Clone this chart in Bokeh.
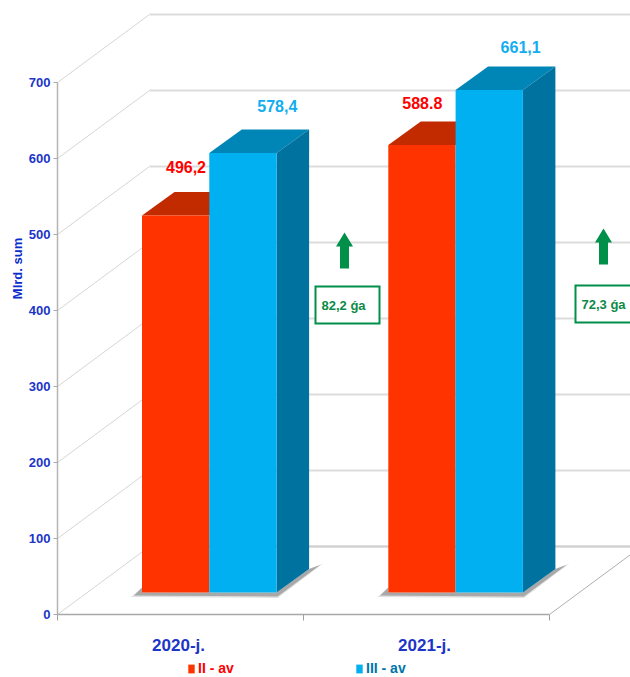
from bokeh.plotting import figure
from bokeh.models import Range1d, LinearAxis, FixedTicker, Legend, LegendItem
from bokeh.core.properties import value
from bokeh.embed import file_html
from bokeh.resources import INLINE

# ---- chart data ----
years = ["2020-j.", "2021-j."]
q2_values = [496.2, 588.8]
q3_values = [578.4, 661.1]
q2_labels = ["496,2", "588.8"]
q3_labels = ["578,4", "661,1"]
gain_labels = ["82,2 ǵa", "72,3 ǵa"]
y_ticks = [0, 100, 200, 300, 400, 500, 600, 700]
series_names = ["II - av", "III - av"]
y_title = "Mlrd. sum"

# ---- layout / style ----
PX_X = 246.0     # pixels per category
PX_Y = 0.76      # pixels per value unit
W, H = 630, 677
X0_PX, Y0_PX = 57, 614   # where the value/category origin lies
ux = 1 / PX_X
uy = 1 / PX_Y
X_END = (W - X0_PX) * ux
WALL_DX, WALL_DY = 92 * ux, 68 * uy      # depth of the chart box
BAR_DX, BAR_DY = 32.5 * ux, 23.5 * uy    # depth of each bar
BASE = 22 * uy                           # raised baseline of bar fronts
BAR_L = 84.5 * ux
BAR_W = 67.3 * ux
BAR_STEP = 246.3 * ux
LABEL_POS = [0.492, 1.492]
FONT = "Liberation Sans"
BLUE = "#1c35c8"
RED, RED_TOP = "#ff3300", "#c22a00"
SKY, SKY_TOP, SKY_SIDE = "#00b0f0", "#0086b6", "#00729f"
GREEN = "#00904a"
GRID = "#dcdcdc"

p = figure(width=W, height=H, frame_width=W, frame_height=H,
           output_backend="svg", toolbar_location=None,
           x_range=Range1d(-X0_PX * ux, X_END),
           y_range=Range1d(-(H - Y0_PX) * uy, Y0_PX * uy),
           x_axis_type=None, y_axis_type=None,
           min_border_left=0, min_border_right=0, min_border_top=0, min_border_bottom=0)
p.outline_line_color = None
p.grid.visible = False
p.background_fill_color = "white"

# axes
yax = LinearAxis(ticker=FixedTicker(ticks=y_ticks), bounds=(0, 700), fixed_location=0)
yax.axis_line_color = "#b4b4b4"
yax.axis_line_width = 1.5
yax.major_tick_line_color = "#a8a8a8"
yax.major_tick_in = 0
yax.major_tick_out = 4
yax.minor_tick_out = 0
yax.minor_tick_in = 0
yax.major_label_standoff = 3
yax.major_label_text_font = FONT
yax.major_label_text_font_style = "bold"
yax.major_label_text_font_size = "13px"
yax.major_label_text_color = BLUE
p.add_layout(yax, "left")

xax = LinearAxis(ticker=FixedTicker(ticks=LABEL_POS, minor_ticks=[0, 1, 2]),
                 bounds=(0, 2), fixed_location=0,
                 major_label_overrides={LABEL_POS[0]: years[0], LABEL_POS[1]: years[1]})
xax.axis_line_color = "#a8a8a8"
xax.axis_line_width = 1.5
xax.major_tick_in = 0
xax.major_tick_out = 0
xax.minor_tick_line_color = "#a0a0a0"
xax.minor_tick_in = 0
xax.minor_tick_out = 6
xax.major_label_standoff = 15
xax.major_label_text_font = FONT
xax.major_label_text_font_style = "bold"
xax.major_label_text_font_size = "17px"
xax.major_label_text_color = BLUE
p.add_layout(xax, "below")

# rotated axis title
p.text([-40 * ux], [(Y0_PX - 268) * uy], text=[y_title], angle=1.5708, angle_units="rad",
       text_color="#0b2ccc", text_font=value(FONT), text_font_style="bold",
       text_font_size="13px", text_align="center", text_baseline="middle")

# chart box: slanted wall lines and back lines
p.segment(x0=[0] * len(y_ticks), y0=y_ticks,
          x1=[WALL_DX] * len(y_ticks), y1=[v + WALL_DY for v in y_ticks],
          line_color="#d6d6d6", line_width=1)
p.segment(x0=[WALL_DX] * len(y_ticks), y0=[v + WALL_DY for v in y_ticks],
          x1=[X_END] * len(y_ticks), y1=[v + WALL_DY for v in y_ticks],
          line_color=GRID, line_width=2)
p.segment(x0=[2], y0=[0], x1=[X_END], y1=[(X_END - 2) * WALL_DY / WALL_DX],
          line_color="#b0b0b0", line_width=1)
p.segment(x0=[WALL_DX], y0=[WALL_DY], x1=[X_END], y1=[WALL_DY],
          line_color="#d0d0d0", line_width=2)


def bar_x(i, k):
    return i * BAR_STEP + BAR_L + k * BAR_W


# floor shadows
for i in range(len(years)):
    l, r = bar_x(i, 0), bar_x(i, 2)
    for grow, alpha in ((3, 0.22), (0, 0.5)):
        xs = [l - (8 + grow) * ux, l, l, r, r + BAR_DX, r + BAR_DX + (11 + grow) * ux, r + 1 * ux]
        ys = [BASE - (3 + grow / 2) * uy, BASE + 5 * uy, BASE, BASE, BASE + BAR_DY,
              BASE + BAR_DY + (4 + grow / 2) * uy, BASE - (4 + grow / 2) * uy]
        p.patch(xs, ys, fill_color="#707070", fill_alpha=alpha, line_color=None)

# value label placement, as offsets from the front top corner of the bars
q2_lab_dx, q2_lab_dy = [44 * ux, 34 * ux], [48 * uy, 42 * uy]
q3_lab_dx, q3_lab_dy = [68 * ux, 65 * ux], [47 * uy, 43 * uy]

# bars
q2_rend = None
q3_rend = None
for i in range(len(years)):
    x0, x1, x2 = bar_x(i, 0), bar_x(i, 1), bar_x(i, 2)
    t2 = BASE + q2_values[i]
    t3 = BASE + q3_values[i]
    p.patch([x0, x0 + BAR_DX, x1 + BAR_DX, x1], [t2, t2 + BAR_DY, t2 + BAR_DY, t2],
            fill_color=RED_TOP, line_color=None)
    r2 = p.quad(left=[x0], right=[x1], bottom=[BASE], top=[t2], fill_color=RED, line_color=None)
    p.patch([x1, x1 + BAR_DX, x2 + BAR_DX, x2], [t3, t3 + BAR_DY, t3 + BAR_DY, t3],
            fill_color=SKY_TOP, line_color=None)
    p.patch([x2, x2 + BAR_DX, x2 + BAR_DX, x2], [t3, t3 + BAR_DY, BASE + BAR_DY, BASE],
            fill_color=SKY_SIDE, line_color=None)
    r3 = p.quad(left=[x1], right=[x2], bottom=[BASE], top=[t3], fill_color=SKY, line_color=None)
    q2_rend = q2_rend or r2
    q3_rend = q3_rend or r3

    p.text([x0 + q2_lab_dx[i]], [t2 + q2_lab_dy[i]], text=[q2_labels[i]], text_color="#ff0000",
           text_font=value(FONT), text_font_style="bold", text_font_size="16px",
           text_align="center", text_baseline="middle")
    p.text([x1 + q3_lab_dx[i]], [t3 + q3_lab_dy[i]], text=[q3_labels[i]], text_color="#12aef0",
           text_font=value(FONT), text_font_style="bold", text_font_size="16px",
           text_align="center", text_baseline="middle")

# gain arrows and boxes
arrow_cx = [1.1667, 2.2195]
arrow_tip = [382 * uy, 386 * uy]
box_left = [258 * ux, 518 * ux]
box_top = [328 * uy, 329 * uy]
for i in range(len(gain_labels)):
    c, t = arrow_cx[i], arrow_tip[i]
    hh, hw, sw, ln = 14 * uy, 8.5 * ux, 4.5 * ux, 36 * uy
    p.patch([c, c + hw, c + sw, c + sw, c - sw, c - sw, c - hw],
            [t, t - hh, t - hh, t - ln, t - ln, t - hh, t - hh],
            fill_color=GREEN, line_color=None)
    p.quad(left=[box_left[i]], right=[box_left[i] + 64 * ux],
           top=[box_top[i]], bottom=[box_top[i] - 37 * uy],
           fill_color="white", line_color=GREEN, line_width=2, line_join="miter")
    p.text([box_left[i] + 6 * ux], [box_top[i] - 18.5 * uy], text=[gain_labels[i]],
           text_color="#0b8a48", text_font=value(FONT), text_font_style="bold",
           text_font_size="13px", text_align="left", text_baseline="middle")

# legends
def make_legend(name, rend, x, color):
    lg = Legend(items=[LegendItem(label=name, renderers=[rend])], location=(x, 1),
                orientation="horizontal", border_line_color=None, background_fill_alpha=0,
                padding=0, margin=0, glyph_width=8, glyph_height=11, label_standoff=3,
                label_text_font=FONT, label_text_font_style="bold",
                label_text_font_size="14px", label_text_color=color, label_height=14)
    p.add_layout(lg, "center")

make_legend(series_names[0], q2_rend, 187, "#ff0000")
make_legend(series_names[1], q3_rend, 355, "#0074aa")

open("out.html", "w").write(file_html(p, INLINE))
